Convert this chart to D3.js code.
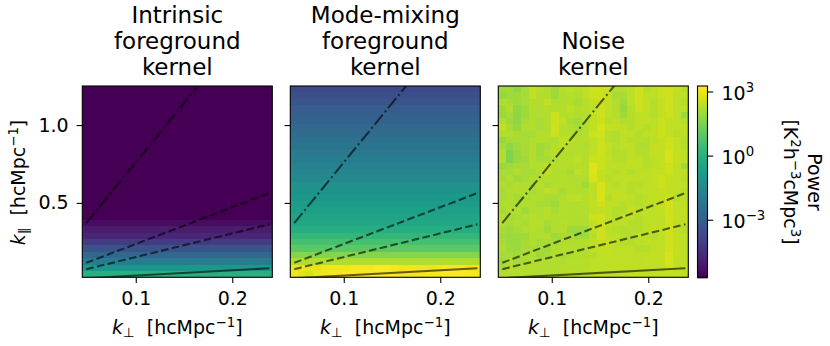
<!DOCTYPE html>
<html>
<head>
<meta charset="utf-8">
<script src="https://d3js.org/d3.v7.min.js"></script>
<style>
  html, body { margin: 0; padding: 0; background: #fff; }
  text { font-family: "DejaVu Sans", sans-serif; fill: #000; }
</style>
</head>
<body>
<div id="vis"></div>
<script>
// Frame and panel layout
const FRAME_WIDTH = 830;
const FRAME_HEIGHT = 346;
const PANEL_LEFTS = [82.3, 290.3, 498.3];
const PANEL_WIDTH = 190;
const PANEL_TOP = 86;
const PANEL_HEIGHT = 191.3;

// Axis ranges
const KPERP_DOMAIN = [0.0446, 0.2415];
const KPAR_DOMAIN = [0.022, 1.251];
const LOG_POWER_DOMAIN = [-5.67, 3.28];

const X_TICKS = [0.1, 0.2];
const Y_TICKS = [0.5, 1.0];
const CBAR_TICKS = [3, 0, -3];

const TITLES = [
  ["Intrinsic", "foreground", "kernel"],
  ["Mode-mixing", "foreground", "kernel"],
  ["Noise", "kernel"]
];

// Wedge lines: slope of k_par against k_perp, and where they run in k_perp
const LINE_SLOPES = [7.6, 2.36, 1.52, 0.335];
const LINE_DASHES = ["12.8,3.2,2,3.2", "7.6,3.4", "7.6,3.4", null];
const LINE_KPERP = [0.0487, 0.2385];

// log10 power per k_par row, top row first
const INTRINSIC_ROWS = [
  -5.67, -5.67, -5.67, -5.67, -5.67, -5.67, -5.67, -5.67, -5.67, -5.67,
  -5.67, -5.67, -5.67, -5.67, -5.67, -5.67, -5.67, -5.67, -5.67, -5.67,
  -5.58, -5.3, -5.05, -4.7, -4.15, -3.4, -2.7, -1.9, -0.93, -0.03
];

const MIXING_ROWS = [
  -3.7, -3.5, -3.32, -3.15, -3.0, -2.85, -2.68, -2.52, -2.36, -2.2,
  -2.05, -1.9, -1.75, -1.6, -1.42, -1.2, -1.05, -0.9, -0.75, -0.6,
  -0.48, -0.35, -0.12, 0.24, 0.6, 1.04, 1.67, 2.2, 3.0, 3.2
];

// The two bottom rows of the mode-mixing kernel vary a little with k_perp
const MIXING_ROW_28 = [3.0, 3.0, 2.9, 2.9, 3.1, 3.1, 3.1, 3.1, 3.2, 3.2, 3.2, 3.3, 3.3, 3.2, 3.1, 3.1, 3.1, 3.1, 3.0, 3.1, 3.2, 3.2, 3.2, 3.1, 3.1];
const MIXING_ROW_29 = [3.1, 2.95, 2.7, 3.0, 3.1, 3.2, 3.2, 3.3, 3.3, 3.3, 3.3, 3.3, 3.3, 3.3, 3.2, 3.2, 3.2, 3.2, 3.2, 3.2, 3.3, 3.3, 3.3, 3.2, 3.2];

// log10 power of the noise kernel, top row first
const NOISE_ROWS = [
  [2.0,2.0,1.8,2.1,2.45,2.3,2.2,2.0,2.3,2.4,2.3,2.4,2.6,2.6,2.55,2.2,2.3,2.4,2.6,2.3,2.4,2.55,2.6,2.45,2.3],
  [1.9,2.0,2.0,2.1,2.45,2.2,2.2,2.0,2.2,2.3,2.2,2.4,2.55,2.55,2.45,2.1,2.1,2.4,2.6,2.4,2.4,2.55,2.6,2.4,2.4],
  [2.2,2.1,2.0,2.1,2.2,2.2,2.45,2.2,2.2,2.3,2.1,2.3,2.45,2.45,2.45,2.2,2.0,2.4,2.6,2.45,2.3,2.45,2.6,2.4,2.3],
  [2.0,2.2,1.8,2.0,2.3,2.2,2.3,2.2,2.3,2.4,2.2,2.3,2.4,2.55,2.4,2.2,1.9,2.3,2.55,2.45,2.3,2.45,2.6,2.4,2.4],
  [1.9,2.1,1.75,2.0,2.2,2.2,2.2,2.55,2.3,2.3,2.2,2.2,2.45,2.6,2.4,2.3,2.0,2.3,2.4,2.4,2.3,2.45,2.55,2.4,1.95],
  [2.2,2.0,1.75,2.1,2.2,2.1,2.2,2.55,2.4,2.1,2.0,2.2,2.45,2.55,2.3,2.4,2.2,2.3,2.4,2.45,2.4,2.55,2.45,2.4,2.3],
  [2.45,2.1,1.9,2.2,2.2,2.1,2.2,2.6,2.3,2.2,2.1,2.2,2.45,2.7,2.45,2.45,2.4,2.3,2.4,2.3,2.4,2.55,2.45,2.4,2.4],
  [2.2,2.2,2.1,2.1,2.1,2.2,2.3,2.55,2.3,2.2,2.2,2.3,2.55,2.6,2.3,2.2,2.45,2.4,2.3,2.4,2.4,2.55,2.45,2.3,2.4],
  [1.9,2.1,2.1,2.1,2.2,2.3,2.2,2.2,2.4,2.4,2.3,2.3,2.4,2.55,2.3,2.2,2.4,2.3,2.3,2.2,2.4,2.45,2.55,2.45,2.3],
  [2.1,1.8,2.0,2.1,2.2,2.0,2.1,2.3,2.4,2.3,2.3,2.2,2.4,2.6,2.45,2.3,2.4,2.4,2.2,2.2,2.45,2.45,2.6,2.45,2.3],
  [2.2,1.6,1.9,2.1,2.3,2.0,2.2,2.3,2.2,2.2,2.3,2.3,2.45,2.6,2.4,2.2,2.3,2.4,2.3,2.3,2.45,2.45,2.75,2.45,2.4],
  [2.2,1.6,1.9,2.0,2.3,2.1,2.1,2.2,2.3,2.3,2.4,2.3,2.55,2.55,2.45,2.3,2.3,2.45,2.4,2.3,2.4,2.45,2.7,2.45,2.4],
  [1.9,2.0,2.1,2.1,2.2,2.2,2.4,2.3,2.3,2.2,2.3,2.3,2.8,2.55,2.4,2.4,2.4,2.4,2.4,2.3,2.4,2.45,2.55,2.4,2.0],
  [2.1,2.1,2.2,2.1,2.1,2.2,2.4,2.2,2.2,2.1,2.4,2.3,2.8,2.45,2.4,2.3,2.4,2.3,2.4,2.4,2.45,2.45,2.55,2.4,2.4],
  [2.1,2.2,2.0,2.1,2.2,2.2,2.3,2.2,2.3,2.2,2.2,2.2,2.75,2.45,2.3,2.4,2.4,2.4,2.4,2.4,2.45,2.55,2.45,2.45,2.3],
  [2.2,2.1,2.2,2.2,2.1,2.3,2.1,2.3,2.3,2.3,2.2,2.0,2.4,2.75,2.4,2.3,2.4,2.3,2.3,2.4,2.45,2.55,2.45,2.4,2.4],
  [2.1,2.2,2.2,2.2,2.1,2.2,2.4,2.3,2.1,2.3,2.2,2.3,2.4,2.75,2.4,2.4,2.4,2.3,2.4,2.45,2.4,2.45,2.45,2.4,2.3],
  [2.1,2.2,2.1,2.1,2.2,2.2,2.1,2.1,2.2,2.4,2.4,2.3,2.4,2.75,2.3,2.45,2.45,2.4,2.3,2.4,2.45,2.45,2.55,2.3,2.4],
  [2.2,2.2,2.1,2.2,2.2,2.1,2.1,2.0,2.3,2.3,2.2,2.3,2.45,2.65,2.4,2.4,2.3,2.4,2.3,2.4,2.4,2.45,2.65,2.4,2.4],
  [2.1,2.2,2.2,2.0,2.2,2.2,2.3,2.1,2.3,2.2,2.3,2.2,2.4,2.45,2.4,2.3,2.3,2.45,2.4,2.4,2.4,2.45,2.65,2.4,2.45],
  [2.3,2.1,2.1,2.2,2.3,2.2,2.3,2.2,2.2,2.2,2.2,2.2,2.55,2.65,2.4,2.3,2.4,2.4,2.3,2.45,2.4,2.4,2.65,2.45,2.4],
  [2.2,2.1,2.2,2.1,2.3,2.3,2.1,2.2,2.3,2.2,2.2,2.2,2.45,2.6,2.45,2.4,2.4,2.3,2.3,2.4,2.4,2.4,2.6,2.4,2.4],
  [2.1,2.0,2.1,2.2,2.3,2.2,2.0,2.2,2.3,1.95,1.95,1.95,2.4,2.65,2.4,2.3,2.2,2.3,2.3,2.4,2.45,2.45,2.65,2.4,2.3],
  [2.0,1.95,2.0,2.0,2.2,2.2,2.2,2.0,2.1,2.1,2.0,2.0,2.3,2.65,2.4,2.4,2.3,2.2,2.4,2.4,2.3,2.4,2.65,2.45,2.4],
  [2.1,1.95,1.95,2.1,2.2,2.1,2.1,2.0,2.2,2.2,2.2,2.3,2.4,2.55,2.45,2.4,2.3,2.3,2.4,2.45,2.4,2.4,2.6,2.45,2.4],
  [2.2,2.0,1.95,2.1,2.1,2.1,2.0,2.2,2.3,2.3,2.2,2.2,2.4,2.45,2.45,2.4,2.4,2.4,2.3,2.3,2.4,2.45,2.65,2.45,2.4],
  [2.1,2.1,2.0,2.2,2.2,2.0,2.1,2.2,2.1,2.2,2.2,2.2,2.3,2.4,2.45,2.4,2.45,2.4,2.4,2.4,2.45,2.45,2.7,2.45,2.4],
  [2.0,2.2,2.1,2.1,2.2,2.2,2.2,2.3,2.2,2.3,2.3,2.3,2.4,2.4,2.4,2.4,2.4,2.4,2.4,2.45,2.4,2.45,2.7,2.4,2.4],
  [2.1,2.3,2.2,2.2,2.3,2.2,2.2,2.2,2.3,2.3,2.3,2.3,2.4,2.4,2.4,2.45,2.4,2.4,2.45,2.4,2.45,2.45,2.55,2.45,2.4],
  [2.2,2.3,2.2,2.3,2.2,2.2,2.3,2.2,2.3,2.4,2.3,2.4,2.4,2.4,2.45,2.4,2.4,2.45,2.4,2.45,2.45,2.45,2.45,2.45,2.4]
];

const N_COLS = NOISE_ROWS[0].length;
const N_ROWS = NOISE_ROWS.length;

// The first two kernels repeat a row value across every column
const INTRINSIC_CELLS = INTRINSIC_ROWS.map((v) => d3.range(N_COLS).map(() => v));
const MIXING_CELLS = MIXING_ROWS.map((v, i) => {
  if (i == 28) return MIXING_ROW_28;
  if (i == 29) return MIXING_ROW_29;
  return d3.range(N_COLS).map(() => v);
});
const PANEL_CELLS = [INTRINSIC_CELLS, MIXING_CELLS, NOISE_ROWS];

const COLOR = d3.scaleSequential(d3.interpolateViridis)
                .domain(LOG_POWER_DOMAIN)
                .clamp(true);

const FRAME = d3.select("#vis")
                .append("svg")
                  .attr("width", FRAME_WIDTH)
                  .attr("height", FRAME_HEIGHT)
                  .style("display", "block");

const DEFS = FRAME.append("defs");
DEFS.append("clipPath")
      .attr("id", "panel-clip")
    .append("rect")
      .attr("width", PANEL_WIDTH)
      .attr("height", PANEL_HEIGHT);

// Small blur so the cell edges are as soft as in the figure
DEFS.append("filter")
      .attr("id", "soft")
    .append("feGaussianBlur")
      .attr("stdDeviation", 0.6)
      .attr("edgeMode", "duplicate");

// Writes a run of [text, style] pieces into a text element
function addPieces(textEl, pieces) {
  pieces.forEach((p) => {
    const span = textEl.append("tspan").text(p.t);
    if (p.italic) span.attr("font-style", "italic");
    if (p.size) span.attr("font-size", p.size);
    if (p.dy) span.attr("dy", p.dy);
  });
}

// k label, with sub being the perpendicular or parallel sign
function kLabel(sub) {
  return [
    {t: "k", italic: true},
    {t: sub, size: 13.3, dy: 3},
    {t: "  [hcMpc", dy: -3},
    {t: "−1", size: 13.3, dy: -7},
    {t: "]", dy: 7}
  ];
}

// Set an axis up with the ticks and frame the way the figure has them
function styleAxis(g) {
  g.selectAll("line").attr("stroke", "#000").attr("stroke-width", 1.1);
  g.selectAll("text").attr("font-size", 19).attr("font-family", "DejaVu Sans");
  g.select(".domain").remove();
}

PANEL_LEFTS.forEach((left, p) => {
  const X_SCALE = d3.scaleLinear().domain(KPERP_DOMAIN).range([0, PANEL_WIDTH]);
  const Y_SCALE = d3.scaleLinear().domain(KPAR_DOMAIN).range([PANEL_HEIGHT, 0]);
  const COL_SCALE = d3.scaleBand().domain(d3.range(N_COLS)).range([0, PANEL_WIDTH]);
  const ROW_SCALE = d3.scaleBand().domain(d3.range(N_ROWS)).range([0, PANEL_HEIGHT]);

  const panel = FRAME.append("g")
                     .attr("transform", "translate(" + left + "," + PANEL_TOP + ")");

  // heatmap cells
  panel.append("g")
       .attr("clip-path", "url(#panel-clip)")
     .append("g")
       .attr("filter", "url(#soft)")
       .selectAll(".row")
       .data(PANEL_CELLS[p])
       .enter()
       .append("g")
         .attr("class", "row")
         .attr("transform", (d, i) => "translate(0," + ROW_SCALE(i) + ")")
       .selectAll("rect")
       .data((d) => d)
       .enter()
       .append("rect")
         .attr("x", (d, i) => COL_SCALE(i))
         .attr("width", COL_SCALE.bandwidth() + 0.5)
         .attr("height", ROW_SCALE.bandwidth() + 0.5)
         .attr("shape-rendering", "crispEdges")
         .attr("fill", (d) => COLOR(d));

  // wedge lines
  const LINES = panel.append("g").attr("clip-path", "url(#panel-clip)");
  LINE_SLOPES.forEach((slope, i) => {
    const line = d3.line()
                   .x((d) => X_SCALE(d))
                   .y((d) => Y_SCALE(d * slope));
    LINES.append("path")
         .attr("d", line(LINE_KPERP))
         .attr("fill", "none")
         .attr("stroke", "#000")
         .attr("stroke-opacity", 0.6)
         .attr("stroke-width", 2.1)
         .attr("stroke-dasharray", LINE_DASHES[i]);
  });

  // frame
  panel.append("rect")
       .attr("width", PANEL_WIDTH)
       .attr("height", PANEL_HEIGHT)
       .attr("fill", "none")
       .attr("stroke", "#000")
       .attr("stroke-width", 1.1);

  // x axis
  panel.append("g")
       .attr("transform", "translate(0," + PANEL_HEIGHT + ")")
       .call(d3.axisBottom(X_SCALE).tickValues(X_TICKS).tickFormat(d3.format(".1f")).tickSize(5.7).tickPadding(8.5))
       .call(styleAxis);

  // y axis, labelled only on the first panel
  panel.append("g")
       .call(d3.axisLeft(Y_SCALE).tickValues(Y_TICKS)
               .tickFormat(p == 0 ? d3.format(".1f") : "").tickSize(5.7).tickPadding(8))
       .call(styleAxis);

  // x label
  const xLabel = FRAME.append("text")
                      .attr("x", left + PANEL_WIDTH / 2)
                      .attr("y", 334)
                      .attr("text-anchor", "middle")
                      .attr("font-size", 19)
                      .attr("xml:space", "preserve");
  addPieces(xLabel, kLabel("⊥"));

  // title, bottom line sits on the same baseline everywhere
  const lines = TITLES[p];
  lines.forEach((line, i) => {
    FRAME.append("text")
         .attr("x", left + PANEL_WIDTH / 2)
         .attr("y", 75 - (lines.length - 1 - i) * 26)
         .attr("text-anchor", "middle")
         .attr("font-size", 23)
         .text(line);
  });
});

// y label
const yLabel = FRAME.append("text")
                    .attr("transform", "translate(25,182.5) rotate(-90)")
                    .attr("text-anchor", "middle")
                    .attr("font-size", 19)
                    .attr("xml:space", "preserve");
addPieces(yLabel, kLabel("∥"));

// Colourbar
const CBAR_LEFT = 697.5;
const CBAR_WIDTH = 10;
const CBAR_SCALE = d3.scaleLinear().domain(LOG_POWER_DOMAIN).range([PANEL_HEIGHT, 0]);
const cbar = FRAME.append("g")
                  .attr("transform", "translate(" + CBAR_LEFT + "," + PANEL_TOP + ")");

cbar.selectAll("rect")
    .data(d3.range(0, PANEL_HEIGHT, 1))
    .enter()
    .append("rect")
      .attr("y", (d) => d)
      .attr("width", CBAR_WIDTH)
      .attr("height", 1.4)
      .attr("fill", (d) => COLOR(CBAR_SCALE.invert(d + 0.5)));

cbar.append("rect")
    .attr("width", CBAR_WIDTH)
    .attr("height", PANEL_HEIGHT)
    .attr("fill", "none")
    .attr("stroke", "#000")
    .attr("stroke-width", 1.1);

CBAR_TICKS.forEach((t) => {
  const y = CBAR_SCALE(t);
  cbar.append("line")
      .attr("x1", CBAR_WIDTH)
      .attr("x2", CBAR_WIDTH + 5.7)
      .attr("y1", y)
      .attr("y2", y)
      .attr("stroke", "#000")
      .attr("stroke-width", 1.1);
  const label = cbar.append("text")
                    .attr("x", CBAR_WIDTH + 14)
                    .attr("y", y + 7.5)
                    .attr("font-size", 19);
  addPieces(label, [
    {t: "10"},
    {t: String(t).replace("-", "−"), size: 13.3, dy: -8}
  ]);
});

// Colourbar label, two lines reading downwards
const powerLabel = FRAME.append("text")
                        .attr("transform", "translate(808,182) rotate(90)")
                        .attr("text-anchor", "middle")
                        .attr("font-size", 19)
                        .text("Power");
const unitLabel = FRAME.append("text")
                       .attr("transform", "translate(784,182) rotate(90)")
                       .attr("text-anchor", "middle")
                       .attr("font-size", 19);
addPieces(unitLabel, [
  {t: "[K"},
  {t: "2", size: 13.3, dy: -7},
  {t: "h", dy: 7},
  {t: "−3", size: 13.3, dy: -7},
  {t: "cMpc", dy: 7},
  {t: "3", size: 13.3, dy: -7},
  {t: "]", dy: 7}
]);
</script>
</body>
</html>
